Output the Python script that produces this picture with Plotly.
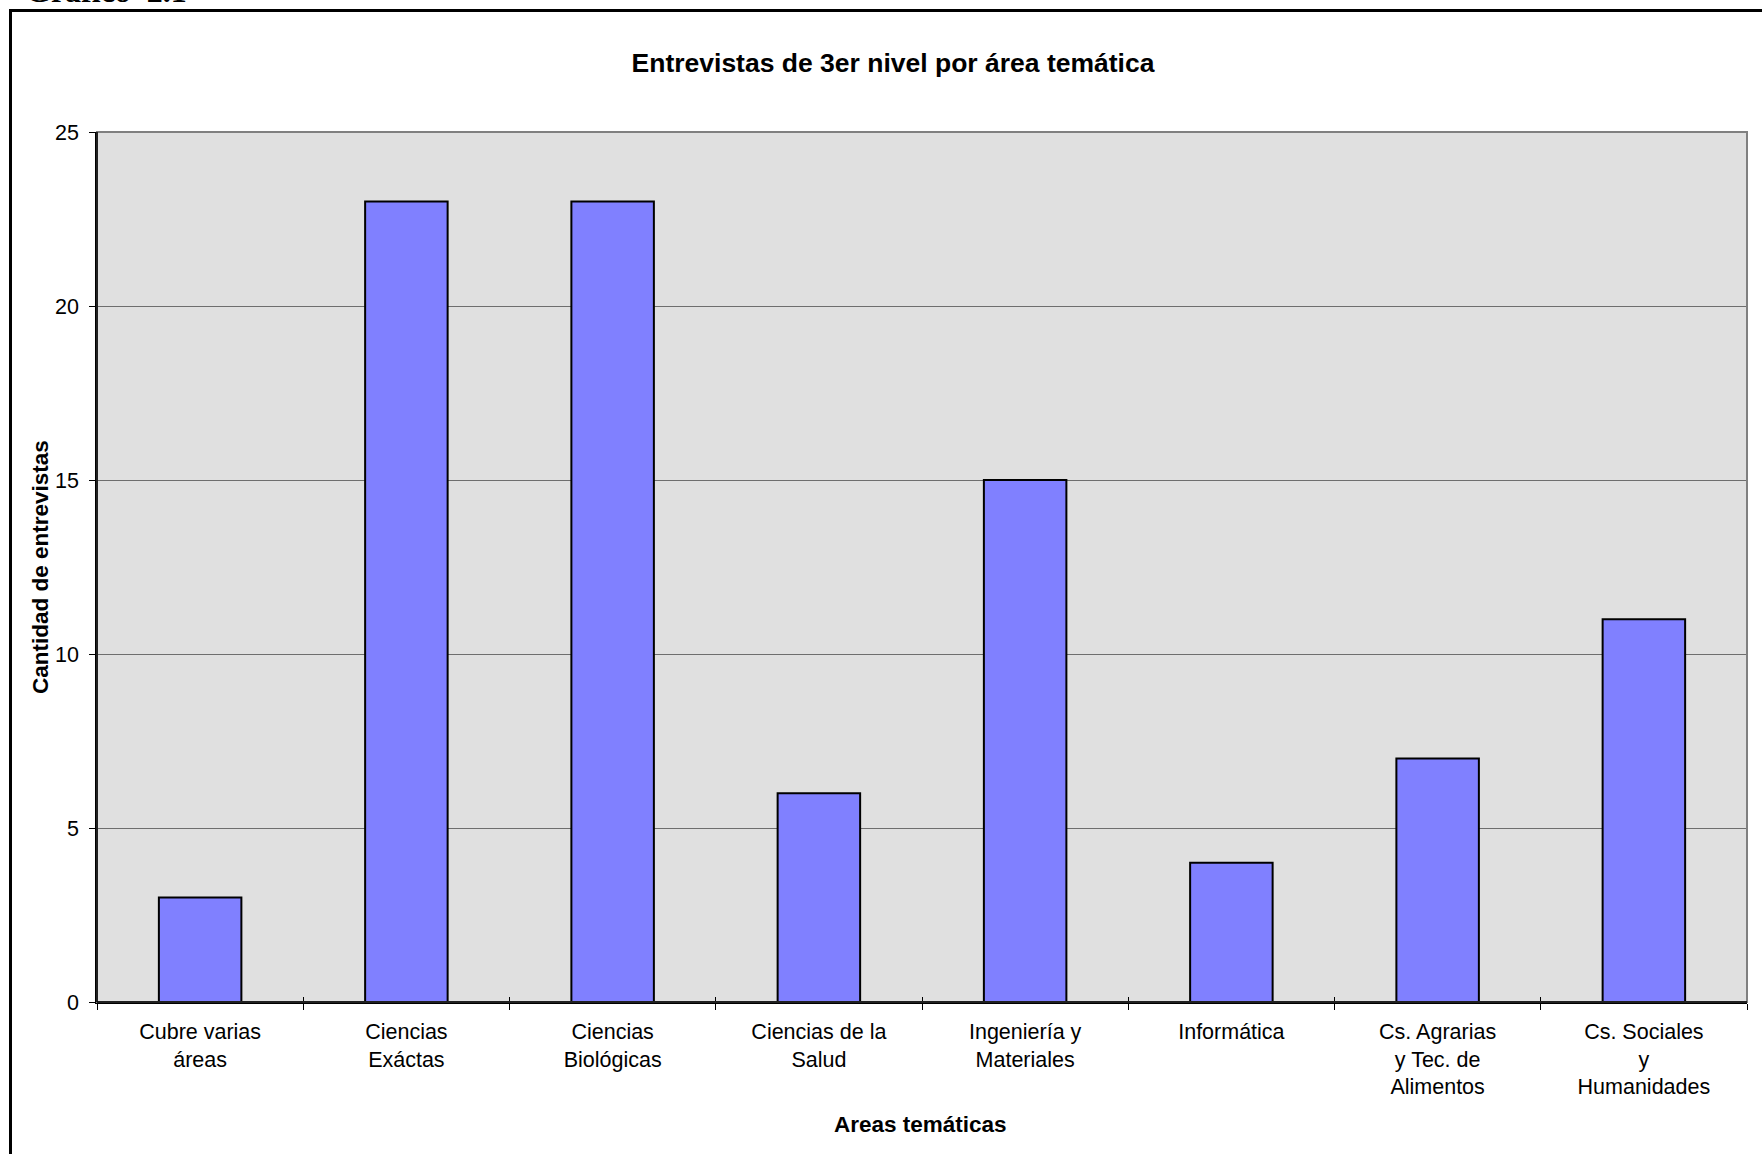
import plotly.graph_objects as go

categories = [
    "Cubre varias<br>áreas",
    "Ciencias<br>Exáctas",
    "Ciencias<br>Biológicas",
    "Ciencias de la<br>Salud",
    "Ingeniería y<br>Materiales",
    "Informática",
    "Cs. Agrarias<br>y Tec. de<br>Alimentos",
    "Cs. Sociales<br>y<br>Humanidades",
]
values = [3, 23, 23, 6, 15, 4, 7, 11]
y_ticks = [0, 5, 10, 15, 20, 25]

title_text = "Entrevistas de 3er nivel por área temática"
x_title = "Areas temáticas"
y_title = "Cantidad de entrevistas"
header_text = "Gráfico  2.1"

W, H = 1762, 1154
L, R, T, B = 97, 15, 132, 152
PW, PH = W - L - R, H - T - B


def px_x(x):
    return (x - L) / PW


def px_y(y):
    return 1 - (y - T) / PH


FONT = "Liberation Sans, Arial, sans-serif"

fig = go.Figure()
fig.add_trace(go.Bar(
    x=categories,
    y=values,
    marker=dict(color="#8080FF", line=dict(color="#000000", width=2)),
    width=0.4,
    hoverinfo="x+y",
))
# helper trace so the overlay axis (crossing tick marks) has the same categories
fig.add_trace(go.Scatter(
    x=categories, y=[None] * len(categories), xaxis="x2", yaxis="y",
    mode="markers", showlegend=False, hoverinfo="skip",
))

fig.update_layout(
    width=W,
    height=H,
    margin=dict(l=L, r=R, t=T, b=B),
    paper_bgcolor="#FFFFFF",
    plot_bgcolor="#E0E0E0",
    showlegend=False,
    font=dict(family=FONT, color="#000000", size=21.5),
    title=dict(
        text="<b>" + title_text + "</b>",
        font=dict(family=FONT, size=26.5, color="#000000"),
        x=px_x(893), xref="paper", xanchor="center",
        y=1 - 63 / H, yref="container", yanchor="middle",
    ),
    xaxis=dict(
        type="category",
        categoryorder="array",
        categoryarray=categories,
        tickson="boundaries",
        ticks="outside",
        ticklen=6,
        tickcolor="#000000",
        tickwidth=1,
        showgrid=False,
        showline=True,
        linecolor="#000000",
        linewidth=1.5,
        tickfont=dict(family=FONT, size=21.5, color="#000000"),
        ticklabelstandoff=9,
        zeroline=False,
    ),
    xaxis2=dict(
        type="category",
        categoryorder="array",
        categoryarray=categories,
        overlaying="x",
        matches="x",
        side="bottom",
        anchor="y",
        tickson="boundaries",
        ticks="inside",
        ticklen=5,
        tickcolor="#000000",
        tickwidth=1,
        showticklabels=False,
        showgrid=False,
        showline=False,
        zeroline=False,
    ),
    yaxis=dict(
        range=[0, 25],
        tickvals=y_ticks,
        ticks="outside",
        ticklen=6,
        tickcolor="#000000",
        tickwidth=1,
        showgrid=True,
        gridcolor="#6E6E6E",
        gridwidth=1.3,
        showline=True,
        linecolor="#000000",
        linewidth=1.5,
        zeroline=False,
        tickfont=dict(family=FONT, size=21.5, color="#000000"),
        ticklabelstandoff=6,
    ),
    bargap=0.6,
)

# plot area border (top / right in grey)
fig.add_shape(type="rect", xref="paper", yref="paper", x0=0, x1=1, y0=0, y1=1,
              line=dict(color="#808080", width=2), fillcolor="rgba(0,0,0,0)", layer="above")
# re-draw left and bottom axis lines in black on top
fig.add_shape(type="line", xref="paper", yref="paper", x0=0, x1=0, y0=0, y1=1,
              line=dict(color="#000000", width=1.5), layer="above")
fig.add_shape(type="line", xref="paper", yref="paper", x0=0, x1=1, y0=0, y1=0,
              line=dict(color="#000000", width=1.5), layer="above")

# outer chart frame
fig.add_shape(type="rect", xref="paper", yref="paper",
              x0=px_x(10.5), x1=px_x(1790), y0=px_y(1180), y1=px_y(10.5),
              line=dict(color="#000000", width=3), fillcolor="rgba(0,0,0,0)", layer="above")

# axis titles
fig.add_annotation(text="<b>" + y_title + "</b>", xref="paper", yref="paper",
                   x=px_x(40), y=0.5, xanchor="center", yanchor="middle",
                   textangle=-90, showarrow=False,
                   font=dict(family=FONT, size=22.5, color="#000000"))
fig.add_annotation(text="<b>" + x_title + "</b>", xref="paper", yref="paper",
                   x=px_x(920), y=px_y(1124), xanchor="center", yanchor="middle",
                   showarrow=False,
                   font=dict(family=FONT, size=22.5, color="#000000"))

# cut-off header above the frame
fig.add_annotation(text="<b>" + header_text + "</b>", xref="paper", yref="paper",
                   x=px_x(24), y=px_y(11), xanchor="left", yanchor="bottom",
                   showarrow=False,
                   font=dict(family="Liberation Serif, Times New Roman, serif", size=32, color="#000000"))

fig.write_html("out.html", config={"displayModeBar": False},
               post_script="document.body.style.margin='0';")
